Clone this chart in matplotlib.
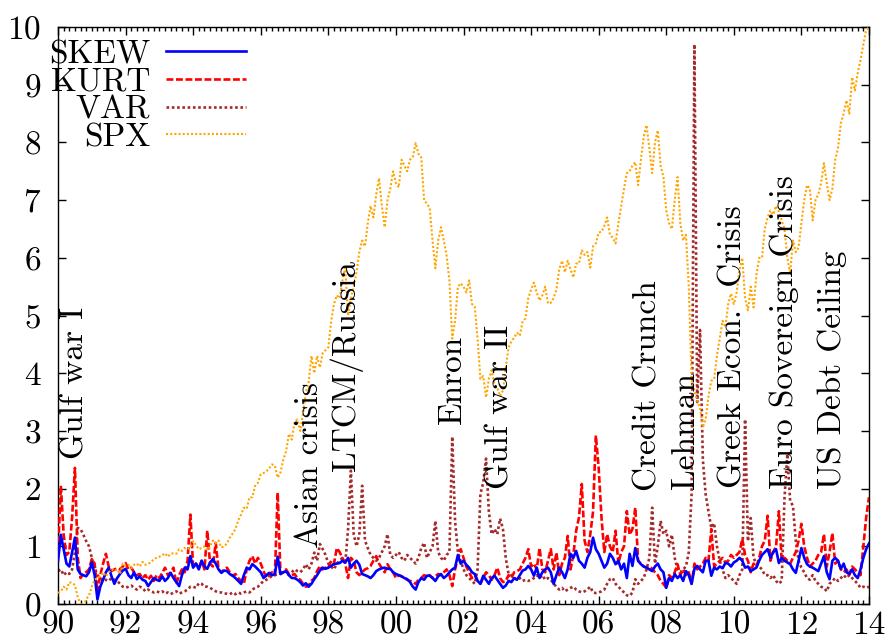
import numpy as np
import matplotlib
matplotlib.use("Agg")
import matplotlib.pyplot as plt
from matplotlib.ticker import MultipleLocator, AutoMinorLocator

# -----------------------------
# Data (monthly, 1990.0 .. 2014.0)
# -----------------------------
skew = [
    0.75, 1.20, 0.95, 0.70, 0.65, 0.90, 1.15, 0.60, 0.52, 0.50, 0.48, 0.55,  # 1990
    0.72, 0.50, 0.08, 0.30, 0.42, 0.55, 0.63, 0.48, 0.35, 0.45, 0.52, 0.58,  # 1991
    0.61, 0.50, 0.45, 0.55, 0.43, 0.48, 0.42, 0.40, 0.31, 0.38, 0.45, 0.42,  # 1992
    0.40, 0.48, 0.40, 0.45, 0.54, 0.45, 0.38, 0.31, 0.50, 0.63, 0.60, 0.83,  # 1993
    0.63, 0.70, 0.60, 0.75, 0.65, 0.61, 0.72, 0.78, 0.70, 0.60, 0.54, 0.58,  # 1994
    0.57, 0.52, 0.49, 0.45, 0.40, 0.35, 0.50, 0.63, 0.60, 0.69, 0.65, 0.60,  # 1995
    0.55, 0.45, 0.50, 0.54, 0.50, 0.52, 0.82, 0.52, 0.55, 0.57, 0.50, 0.45,  # 1996
    0.45, 0.42, 0.38, 0.32, 0.36, 0.30, 0.35, 0.43, 0.50, 0.58, 0.63, 0.61,  # 1997
    0.63, 0.66, 0.69, 0.70, 0.71, 0.75, 0.72, 0.80, 0.63, 0.70, 0.75, 0.68,  # 1998
    0.52, 0.50, 0.48, 0.45, 0.50, 0.57, 0.60, 0.62, 0.63, 0.61, 0.61, 0.55,  # 1999
    0.52, 0.50, 0.48, 0.45, 0.43, 0.38, 0.30, 0.25, 0.38, 0.45, 0.42, 0.49,  # 2000
    0.49, 0.45, 0.40, 0.48, 0.52, 0.45, 0.49, 0.55, 0.60, 0.63, 0.85, 0.70,  # 2001
    0.75, 0.68, 0.63, 0.55, 0.52, 0.40, 0.35, 0.49, 0.42, 0.35, 0.45, 0.49,  # 2002
    0.42, 0.35, 0.28, 0.32, 0.40, 0.38, 0.45, 0.42, 0.50, 0.58, 0.60, 0.66,  # 2003
    0.60, 0.49, 0.63, 0.45, 0.55, 0.60, 0.63, 0.55, 0.35, 0.50, 0.63, 0.55,  # 2004
    0.45, 0.60, 0.87, 0.80, 0.92, 0.75, 0.70, 0.63, 0.80, 0.90, 1.15, 0.95,  # 2005
    0.87, 0.75, 0.63, 0.70, 0.87, 0.80, 0.69, 0.75, 0.60, 0.70, 0.45, 0.87,  # 2006
    0.66, 0.97, 0.75, 0.69, 0.65, 0.63, 0.60, 0.57, 0.65, 0.70, 0.60, 0.55,  # 2007
    0.28, 0.45, 0.40, 0.52, 0.45, 0.50, 0.40, 0.57, 0.50, 0.35, 0.61, 0.66,  # 2008
    0.60, 0.55, 0.75, 0.75, 0.49, 0.63, 0.60, 0.65, 0.62, 0.71, 0.70, 0.65,  # 2009
    0.72, 0.75, 0.80, 0.75, 0.63, 0.65, 0.57, 0.60, 0.63, 0.75, 0.85, 0.90,  # 2010
    0.95, 0.80, 0.90, 0.95, 0.71, 0.80, 0.75, 0.72, 0.69, 0.60, 0.54, 0.75,  # 2011
    0.97, 0.80, 0.69, 0.65, 0.63, 0.60, 0.57, 0.70, 0.83, 0.55, 0.43, 0.75,  # 2012
    0.80, 0.75, 0.61, 0.70, 0.55, 0.52, 0.60, 0.50, 0.45, 0.60, 0.80, 0.95,  # 2013
    1.05,
]
kurt = [
    0.90, 2.05, 1.20, 0.85, 0.90, 1.50, 2.36, 0.80, 0.45, 0.52, 0.55, 0.60,  # 1990
    0.78, 0.70, 0.22, 0.50, 0.70, 0.87, 0.65, 0.57, 0.60, 0.62, 0.60, 0.65,  # 1991
    0.71, 0.60, 0.63, 0.55, 0.50, 0.52, 0.45, 0.50, 0.42, 0.49, 0.40, 0.50,  # 1992
    0.45, 0.54, 0.63, 0.50, 0.55, 0.63, 0.35, 0.50, 0.60, 0.55, 0.75, 1.55,  # 1993
    0.63, 0.70, 0.62, 0.75, 0.60, 1.27, 0.70, 0.65, 1.06, 0.60, 0.55, 0.60,  # 1994
    0.63, 0.55, 0.49, 0.52, 0.45, 0.40, 0.35, 0.60, 0.75, 0.83, 0.70, 0.80,  # 1995
    0.70, 0.57, 0.45, 0.50, 0.55, 0.50, 1.93, 0.52, 0.55, 0.60, 0.52, 0.50,  # 1996
    0.52, 0.45, 0.42, 0.35, 0.30, 0.32, 0.40, 0.45, 0.57, 0.66, 0.60, 0.63,  # 1997
    0.63, 0.75, 0.70, 0.97, 0.90, 0.80, 0.70, 0.45, 0.80, 0.75, 0.55, 0.50,  # 1998
    0.55, 0.60, 0.62, 0.66, 0.75, 0.83, 0.70, 0.62, 0.55, 0.69, 0.60, 0.55,  # 1999
    0.45, 0.50, 0.48, 0.45, 0.42, 0.40, 0.38, 0.35, 0.42, 0.45, 0.50, 0.48,  # 2000
    0.50, 0.45, 0.48, 0.52, 0.50, 0.55, 0.60, 0.50, 0.31, 0.60, 0.80, 0.95,  # 2001
    0.80, 0.65, 0.55, 0.45, 0.50, 0.40, 0.35, 0.45, 0.55, 0.50, 0.42, 0.50,  # 2002
    0.63, 0.45, 0.38, 0.40, 0.50, 0.45, 0.55, 0.57, 0.60, 0.70, 0.80, 0.95,  # 2003
    0.65, 0.70, 0.60, 0.97, 0.60, 0.55, 0.75, 0.95, 0.60, 0.89, 0.50, 0.70,  # 2004
    0.80, 1.18, 0.60, 0.85, 1.27, 1.50, 2.08, 1.10, 0.90, 1.20, 1.60, 2.92,  # 2005
    2.36, 1.50, 0.90, 1.21, 1.00, 0.90, 1.27, 0.70, 0.90, 1.00, 1.61, 1.20,  # 2006
    1.30, 1.67, 0.75, 0.70, 0.65, 0.63, 0.65, 0.61, 0.55, 0.50, 0.40, 0.35,  # 2007
    0.28, 0.50, 0.45, 0.55, 0.69, 0.50, 0.60, 0.50, 0.55, 0.35, 0.70, 0.60,  # 2008
    0.65, 0.70, 0.80, 0.75, 1.30, 0.65, 0.70, 0.75, 0.80, 0.72, 0.75, 0.85,  # 2009
    0.80, 0.85, 0.90, 1.13, 0.85, 0.75, 0.55, 0.70, 0.65, 0.80, 1.00, 1.10,  # 2010
    1.53, 0.75, 0.90, 1.00, 1.61, 0.75, 0.80, 0.75, 0.70, 0.80, 0.90, 1.10,  # 2011
    1.39, 1.00, 0.80, 0.65, 0.70, 0.75, 0.85, 0.90, 1.21, 0.65, 0.90, 1.23,  # 2012
    0.70, 0.75, 0.60, 0.55, 0.60, 0.50, 0.65, 0.60, 0.55, 0.50, 1.00, 1.50,  # 2013
    1.85,
]
var = [
    0.57, 0.60, 0.50, 0.55, 0.52, 0.60, 0.90, 1.32, 1.30, 1.20, 1.09, 1.00,  # 1990
    0.80, 0.63, 0.50, 0.45, 0.40, 0.42, 0.40, 0.45, 0.42, 0.40, 0.35, 0.30,  # 1991
    0.28, 0.30, 0.32, 0.28, 0.25, 0.30, 0.28, 0.22, 0.25, 0.22, 0.20, 0.22,  # 1992
    0.20, 0.22, 0.18, 0.20, 0.17, 0.20, 0.22, 0.18, 0.20, 0.22, 0.25, 0.30,  # 1993
    0.30, 0.28, 0.36, 0.35, 0.30, 0.30, 0.28, 0.25, 0.22, 0.20, 0.20, 0.18,  # 1994
    0.18, 0.17, 0.20, 0.17, 0.20, 0.18, 0.20, 0.22, 0.20, 0.25, 0.28, 0.30,  # 1995
    0.35, 0.40, 0.42, 0.45, 0.49, 0.50, 0.52, 0.55, 0.57, 0.55, 0.50, 0.55,  # 1996
    0.60, 0.57, 0.55, 0.60, 0.69, 0.60, 0.70, 0.89, 0.75, 1.04, 0.95, 0.85,  # 1997
    0.70, 0.65, 0.60, 0.70, 0.75, 0.80, 0.70, 1.30, 2.31, 1.21, 1.00, 1.20,  # 1998
    2.05, 1.10, 0.97, 0.85, 0.80, 0.75, 0.80, 0.90, 1.00, 1.21, 0.85, 0.80,  # 1999
    0.85, 0.90, 0.80, 0.75, 0.85, 0.80, 0.75, 0.70, 0.80, 0.97, 1.06, 0.80,  # 2000
    0.90, 1.00, 1.44, 0.90, 0.80, 0.75, 0.85, 0.90, 2.90, 1.44, 0.90, 0.75,  # 2001
    0.60, 0.50, 0.45, 0.40, 0.35, 0.60, 1.91, 2.10, 2.52, 1.60, 1.21, 1.30,  # 2002
    1.21, 1.48, 1.30, 0.80, 0.52, 0.50, 0.45, 0.42, 0.45, 0.40, 0.42, 0.40,  # 2003
    0.42, 0.45, 0.50, 0.45, 0.50, 0.42, 0.45, 0.42, 0.35, 0.30, 0.25, 0.28,  # 2004
    0.22, 0.25, 0.28, 0.30, 0.25, 0.22, 0.20, 0.22, 0.25, 0.30, 0.20, 0.19,  # 2005
    0.20, 0.22, 0.25, 0.35, 0.43, 0.45, 0.35, 0.30, 0.25, 0.20, 0.15, 0.14,  # 2006
    0.20, 0.43, 0.35, 0.40, 0.45, 0.60, 0.80, 1.67, 0.70, 1.00, 1.44, 1.21,  # 2007
    1.27, 1.00, 1.20, 0.80, 0.60, 0.55, 0.60, 0.65, 0.90, 1.90, 9.70, 3.50,  # 2008
    4.75, 2.50, 1.90, 1.60, 1.32, 1.40, 1.00, 0.75, 0.60, 0.45, 0.50, 0.45,  # 2009
    0.40, 0.35, 0.50, 0.60, 3.20, 1.09, 1.49, 0.80, 0.70, 0.65, 0.60, 0.50,  # 2010
    0.50, 0.45, 0.50, 0.40, 0.35, 0.40, 1.84, 2.60, 1.79, 1.70, 1.09, 0.75,  # 2011
    0.63, 0.55, 0.45, 0.42, 0.50, 0.40, 0.35, 0.30, 0.28, 0.22, 0.35, 0.40,  # 2012
    0.45, 0.40, 0.45, 0.50, 0.45, 0.50, 0.45, 0.40, 0.35, 0.28, 0.30, 0.28,  # 2013
    0.30,
]
spx = [
    0.19, 0.22, 0.30, 0.25, 0.38, 0.36, 0.33, 0.12, 0.00, -0.03, 0.08, 0.15,  # 1990
    0.30, 0.42, 0.45, 0.48, 0.55, 0.48, 0.55, 0.60, 0.57, 0.60, 0.52, 0.70,  # 1991
    0.66, 0.68, 0.62, 0.68, 0.70, 0.65, 0.73, 0.68, 0.70, 0.72, 0.78, 0.80,  # 1992
    0.82, 0.84, 0.88, 0.82, 0.87, 0.88, 0.87, 0.95, 0.92, 0.97, 0.95, 0.98,  # 1993
    1.09, 1.02, 0.95, 0.97, 1.00, 0.93, 1.00, 1.10, 1.05, 1.10, 0.98, 1.00,  # 1994
    1.05, 1.15, 1.22, 1.30, 1.45, 1.55, 1.67, 1.65, 1.85, 1.85, 2.05, 2.10,  # 1995
    2.25, 2.27, 2.30, 2.35, 2.42, 2.40, 2.19, 2.28, 2.50, 2.65, 2.95, 2.85,  # 1996
    3.15, 3.20, 3.00, 3.30, 3.65, 3.85, 4.30, 4.00, 4.30, 4.10, 4.35, 4.40,  # 1997
    4.45, 4.90, 5.20, 5.35, 5.30, 5.60, 5.83, 5.00, 5.30, 5.50, 5.75, 6.10,  # 1998
    6.30, 6.20, 6.60, 6.90, 6.70, 7.10, 7.38, 6.90, 6.53, 7.00, 7.20, 7.50,  # 1999
    7.30, 7.22, 7.70, 7.60, 7.50, 7.70, 7.75, 7.99, 7.80, 7.74, 7.00, 6.94,  # 2000
    6.86, 6.30, 5.82, 6.30, 6.53, 6.30, 6.04, 5.60, 4.60, 4.90, 5.50, 5.56,  # 2001
    5.50, 5.40, 5.61, 5.20, 5.15, 4.60, 3.90, 3.95, 3.58, 3.90, 4.05, 3.80,  # 2002
    3.75, 3.60, 3.70, 4.10, 4.45, 4.55, 4.62, 4.70, 4.65, 4.90, 4.95, 5.30,  # 2003
    5.45, 5.57, 5.40, 5.26, 5.35, 5.50, 5.21, 5.22, 5.30, 5.45, 5.80, 5.95,  # 2004
    5.75, 5.95, 5.80, 5.66, 5.90, 5.90, 6.13, 6.05, 6.10, 5.83, 6.20, 6.25,  # 2005
    6.44, 6.45, 6.55, 6.70, 6.40, 6.35, 6.25, 6.60, 6.90, 7.20, 7.47, 7.50,  # 2006
    7.60, 7.66, 7.26, 7.70, 8.10, 8.30, 7.90, 7.47, 8.00, 8.21, 7.60, 7.40,  # 2007
    6.82, 6.60, 6.50, 7.00, 7.40, 6.60, 6.30, 6.40, 5.50, 3.90, 3.70, 3.52,  # 2008
    3.40, 3.06, 3.20, 3.60, 3.87, 3.90, 4.30, 4.60, 4.91, 4.80, 5.20, 5.38,  # 2009
    5.20, 5.40, 5.80, 6.00, 5.30, 5.09, 5.50, 5.14, 5.70, 6.00, 6.00, 6.50,  # 2010
    6.70, 6.82, 6.75, 6.90, 6.80, 6.65, 6.50, 6.00, 5.73, 6.30, 6.10, 6.18,  # 2011
    6.60, 7.00, 7.26, 7.20, 6.65, 7.00, 7.10, 7.30, 7.64, 7.30, 7.00, 7.20,  # 2012
    7.70, 7.90, 8.33, 8.50, 8.73, 8.50, 9.13, 8.90, 9.20, 9.43, 9.70, 9.95,  # 2013
    10.0,
]
t = 1990 + np.arange(len(skew)) / 12.0

# event labels: (x position in years, bottom of text in y units, text)
events = [
    (1990.5, 2.52, "Gulf war I"),
    (1997.43, 0.97, "Asian crisis"),
    (1998.52, 2.31, "LTCM/Russia"),
    (2001.66, 3.12, "Enron"),
    (2003.08, 2.0, "Gulf war II"),
    (2007.46, 1.96, "Credit Crunch"),
    (2008.58, 2.0, "Lehman"),
    (2009.97, 2.01, "Greek Econ.  Crisis"),
    (2011.48, 2.0, "Euro Sovereign Crisis"),
    (2012.9, 2.0, "US Debt Ceiling"),
]

xticks = np.arange(1990, 2015, 2)
xlabels = ["%02d" % (y % 100) for y in xticks]

# -----------------------------
# Plot
# -----------------------------
plt.rcParams["font.family"] = "cmr10"
plt.rcParams["mathtext.fontset"] = "cm"
plt.rcParams["axes.formatter.use_mathtext"] = True
fs = 24

fig = plt.figure(figsize=(8.86, 6.44), dpi=100)
ax = fig.add_axes([0.0655, 0.0621, 0.9153, 0.8959])

ax.plot(t, skew, color="#0000ff", lw=1.9, ls="-", label="SKEW", zorder=4)
ax.plot(t, kurt, color="#ff0000", lw=1.9, dashes=(2.6, 1.0), label="KURT", zorder=3)
ax.plot(t, var, color="#a52a2a", lw=1.9, dashes=(1.0, 1.0), label="VAR", zorder=2)
ax.plot(t, spx, color="#ffa500", lw=1.5, dashes=(1.0, 1.0), label="SPX", zorder=5)

for x, y, s in events:
    ax.text(x, y, s, rotation=90, ha="center", va="bottom", fontsize=fs, zorder=6)

ax.set_xlim(1990, 2014)
ax.set_ylim(0, 10)
ax.set_xticks(xticks)
ax.set_xticklabels(xlabels)
ax.xaxis.set_minor_locator(AutoMinorLocator(12))
ax.yaxis.set_major_locator(MultipleLocator(1))
ax.tick_params(which="both", direction="in", top=True, right=True, width=1.0,
               labelsize=fs)
ax.tick_params(which="major", length=6)
ax.tick_params(which="minor", length=3)
ax.tick_params(axis="x", pad=5)
ax.tick_params(axis="y", pad=12)
for sp in ax.spines.values():
    sp.set_linewidth(1.0)

ax.legend(loc="upper right", bbox_to_anchor=(0.232, 0.978), frameon=False,
          markerfirst=False, fontsize=fs, handlelength=2.4, handletextpad=0.48,
          labelspacing=-0.05, borderaxespad=0.0, borderpad=0.0)

plt.savefig("out.png", dpi=100)
plt.close()
